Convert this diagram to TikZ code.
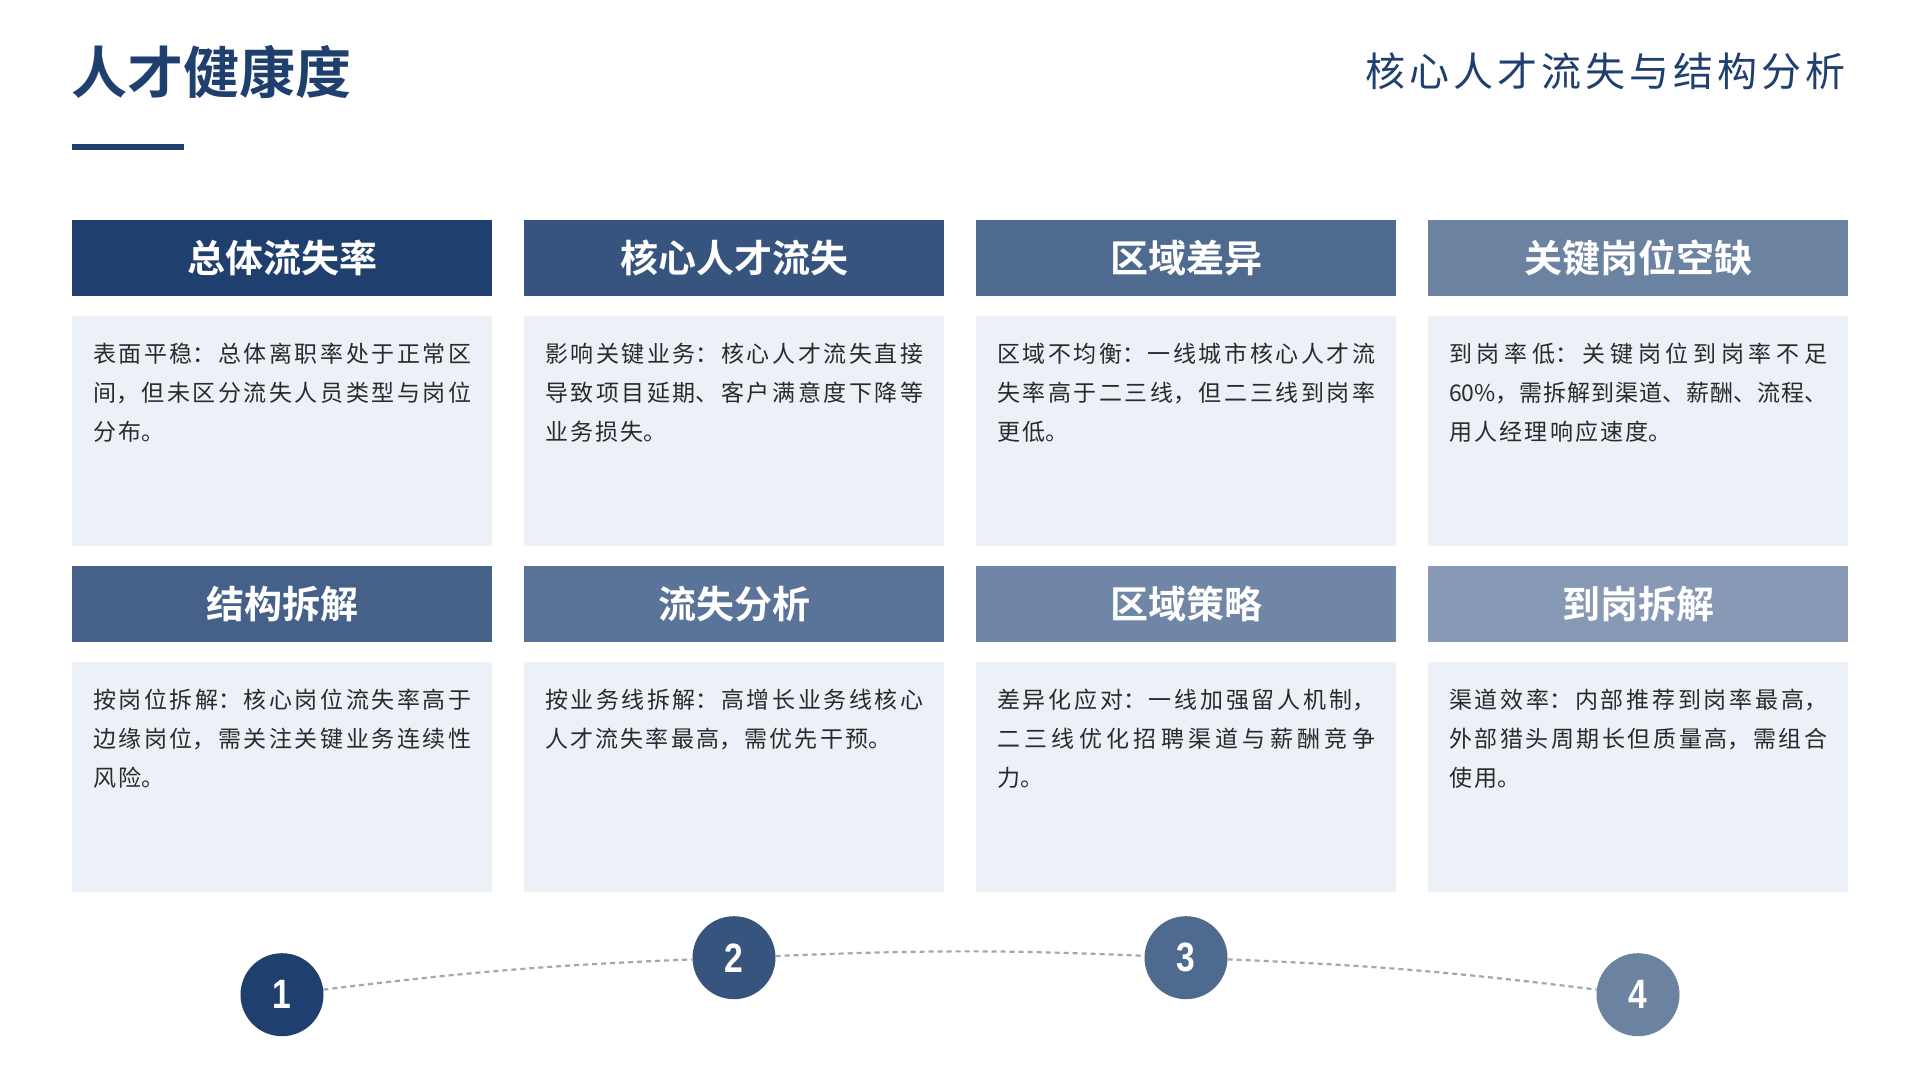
\documentclass[tikz,border=0pt]{standalone}
\usepackage{fontspec}
\usepackage{xcolor}
\usepackage{tikz}
\usetikzlibrary{positioning,shapes}
\setmainfont{Noto Sans CJK SC}[BoldFont={Noto Sans CJK SC Bold}]
\newfontfamily\numfont{Liberation Sans}[FakeStretch=0.82]
\XeTeXlinebreaklocale "zh"
\XeTeXlinebreakskip=0pt plus 1pt

\definecolor{navyA}{HTML}{1F3F6E}
\definecolor{navyB}{HTML}{36547E}
\definecolor{navyC}{HTML}{4F6A8F}
\definecolor{navyD}{HTML}{6B82A1}
\definecolor{navyE}{HTML}{45618A}
\definecolor{navyF}{HTML}{5A7398}
\definecolor{navyG}{HTML}{7086A6}
\definecolor{navyH}{HTML}{8799B4}
\definecolor{cardbg}{HTML}{ECF1F8}
\definecolor{bodyink}{HTML}{2A2A2A}
\definecolor{dashgray}{HTML}{9FA7B5}

\begin{document}
\begin{tikzpicture}[x=1pt, y=1pt,
    headbox/.style={fill=#1, minimum width=420pt, minimum height=76pt, inner sep=0pt,
      outer sep=0pt, text=white, font={\fontsize{38}{42}\selectfont\bfseries}},
    cardbox/.style={fill=cardbg, minimum width=420pt, minimum height=230pt, inner sep=0pt, outer sep=0pt},
    cardtext/.style={anchor=north west, inner sep=0pt, text width=378pt, align=justify, text=bodyink,
      font={\fontsize{23}{39}\selectfont\XeTeXlinebreakskip=2.2pt plus 2pt minus 1.5pt\relax}},
    stepdot/.style={circle, fill=#1, minimum size=83pt, inner sep=0pt, text=white,
      font={\numfont\fontsize{41}{43}\selectfont\bfseries}},
    linkline/.style={draw=dashgray, line width=2.2pt, dash pattern=on 5pt off 4pt}]
  \fill[white] (0,0) rectangle (1920,1080);
  \path[use as bounding box] (0,0) rectangle (1920,1080);

  % title and subtitle
  \node[anchor=base west, inner sep=0pt, text=navyA, font={\fontsize{56}{60}\selectfont\bfseries}] (title) at (71,986) {人才健康度};
  \fill[navyA] (72,930) rectangle (184,936);
  \node[anchor=base east, inner sep=0pt, text=navyA, font={\fontsize{40}{44}\selectfont\addfontfeatures{LetterSpace=10}}] (subtitle) at (1846,993) {核心人才流失与结构分析};

  % first row
  \node[headbox=navyA] (h1) at (282,822) {总体流失率};
  \node[headbox=navyB, right=32pt of h1] (h2) {核心人才流失};
  \node[headbox=navyC, right=32pt of h2] (h3) {区域差异};
  \node[headbox=navyD, right=32pt of h3] (h4) {关键岗位空缺};
  \node[cardbox, below=20pt of h1] (b1) {};
  \node[cardbox, below=20pt of h2] (b2) {};
  \node[cardbox, below=20pt of h3] (b3) {};
  \node[cardbox, below=20pt of h4] (b4) {};
  \node[cardtext, below right=27pt and 21pt of b1.north west] (t1) {表面平稳：总体离职率处于正常区\linebreak 间，但未区分流失人员类型与岗位\linebreak 分布。};
  \node[cardtext, below right=27pt and 21pt of b2.north west] (t2) {影响关键业务：核心人才流失直接\linebreak 导致项目延期、客户满意度下降等\linebreak 业务损失。};
  \node[cardtext, below right=27pt and 21pt of b3.north west] (t3) {区域不均衡：一线城市核心人才流\linebreak 失率高于二三线，但二三线到岗率\linebreak 更低。};
  \node[cardtext, below right=27pt and 21pt of b4.north west] (t4) {到岗率低：关键岗位到岗率不足\linebreak 60\%，需拆解到渠道、薪酬、流程、\linebreak 用人经理响应速度。};

  % second row
  \node[headbox=navyE, below=20pt of b1] (h5) {结构拆解};
  \node[headbox=navyF, right=32pt of h5] (h6) {流失分析};
  \node[headbox=navyG, right=32pt of h6] (h7) {区域策略};
  \node[headbox=navyH, right=32pt of h7] (h8) {到岗拆解};
  \node[cardbox, below=20pt of h5] (b5) {};
  \node[cardbox, below=20pt of h6] (b6) {};
  \node[cardbox, below=20pt of h7] (b7) {};
  \node[cardbox, below=20pt of h8] (b8) {};
  \node[cardtext, below right=27pt and 21pt of b5.north west] (t5) {按岗位拆解：核心岗位流失率高于\linebreak 边缘岗位，需关注关键业务连续性\linebreak 风险。};
  \node[cardtext, below right=27pt and 21pt of b6.north west] (t6) {按业务线拆解：高增长业务线核心\linebreak 人才流失率最高，需优先干预。};
  \node[cardtext, below right=27pt and 21pt of b7.north west] (t7) {差异化应对：一线加强留人机制，\linebreak 二三线优化招聘渠道与薪酬竞争\linebreak 力。};
  \node[cardtext, below right=27pt and 21pt of b8.north west] (t8) {渠道效率：内部推荐到岗率最高，\linebreak 外部猎头周期长但质量高，需组合\linebreak 使用。};

  % steps
  \node[stepdot=navyA, below=61pt of b5] (s1) {1};
  \node[stepdot=navyB, below=24pt of b6] (s2) {2};
  \node[stepdot=navyC, below=24pt of b7] (s3) {3};
  \node[stepdot=navyD, below=61pt of b8] (s4) {4};
  \draw[linkline] (s1) to[out=7, in=182.4] (s2);
  \draw[linkline] (s2) to[out=2.4, in=177.6] (s3);
  \draw[linkline] (s3) to[out=-2.4, in=173] (s4);
\end{tikzpicture}
\end{document}
